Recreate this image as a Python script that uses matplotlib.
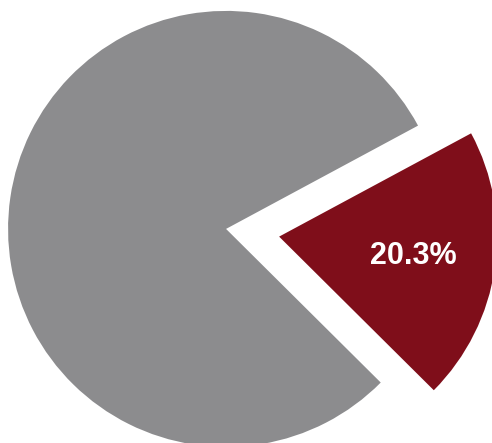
import matplotlib
matplotlib.use("Agg")
import matplotlib.pyplot as plt

# slice shares (percent)
labels = ["Share", "Other"]
values = [20.3, 79.7]
colors = ["#7F0E1A", "#8C8C8E"]
explode = [0.246, 0.0]

fig = plt.figure(figsize=(4.92, 4.43), dpi=100)
ax = fig.add_axes([0, 0, 1, 1])

wedges, texts, autotexts = ax.pie(
    values,
    colors=colors,
    explode=explode,
    startangle=-44.8,
    counterclock=True,
    autopct=lambda p: f"{p:.1f}%" if p < 50 else "",
    pctdistance=0.62,
    wedgeprops={"linewidth": 0},
    textprops={"color": "white", "fontsize": 22, "fontweight": "bold",
               "family": ["Liberation Sans", "DejaVu Sans"]},
)

ax.set_aspect("auto")
ax.set_xlim(-1.037, 1.220)
ax.set_ylim(-0.982, 1.050)
ax.axis("off")

fig.savefig("out.png", dpi=100)
